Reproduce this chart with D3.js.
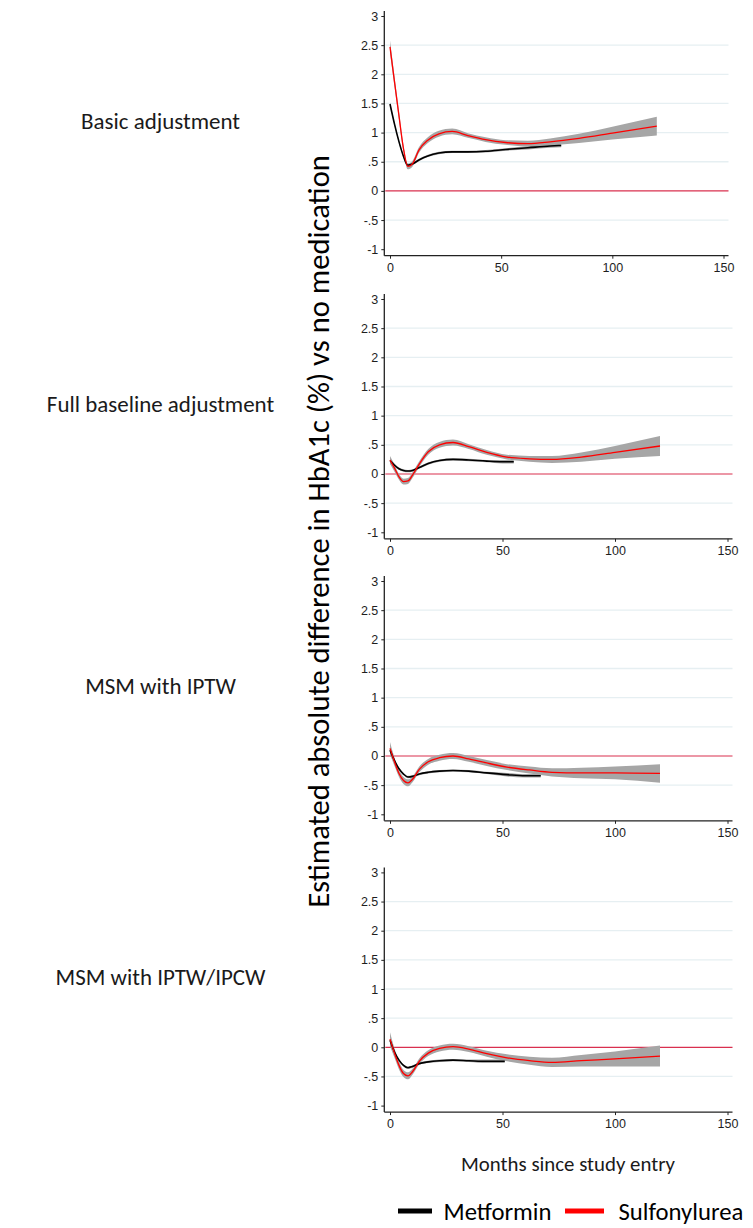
<!DOCTYPE html>
<html>
<head>
<meta charset="utf-8">
<script src="https://cdn.jsdelivr.net/npm/d3@7"></script>
<style>
  body { margin: 0; background: #fff; }
  svg { display: block; }
</style>
</head>
<body>
<svg id="chart" width="753" height="1228"></svg>
<script>
// ---- Labels and ticks ----
const panelTitles = ["Basic adjustment", "Full baseline adjustment", "MSM with IPTW", "MSM with IPTW/IPCW"];
const seriesNames = ["Metformin", "Sulfonylurea"];
const yTicks = [3, 2.5, 2, 1.5, 1, 0.5, 0, -0.5, -1];
const yTickLabels = ["3", "2.5", "2", "1.5", "1", ".5", "0", "-.5", "-1"];
const xTicks = [0, 50, 100, 150];
const yTitle = "Estimated absolute difference in HbA1c (%) vs no medication";
const xTitle = "Months since study entry";

// ---- Sulfonylurea: estimate and 95% CI half-width, by month ----
const sulfMonths = [0, 2, 4, 6, 8, 10, 13, 17, 22, 28, 35, 43, 52, 62, 72, 85, 100, 120];
const sulfBasic      = [2.47, 1.88, 1.30, 0.74, 0.42, 0.46, 0.70, 0.87, 0.98, 1.02, 0.95, 0.88, 0.83, 0.81, 0.84, 0.90, 0.99, 1.11];
const sulfBasicCI    = [0.11, 0.09, 0.07, 0.06, 0.05, 0.05, 0.05, 0.05, 0.05, 0.05, 0.04, 0.04, 0.04, 0.05, 0.06, 0.08, 0.11, 0.16];
const sulfFull       = [0.24, 0.10, -0.05, -0.13, -0.12, -0.02, 0.17, 0.38, 0.50, 0.54, 0.47, 0.37, 0.29, 0.26, 0.25, 0.29, 0.37, 0.48];
const sulfFullCI     = [0.07, 0.06, 0.05, 0.05, 0.05, 0.05, 0.05, 0.05, 0.05, 0.05, 0.04, 0.04, 0.04, 0.05, 0.06, 0.08, 0.11, 0.17];
const sulfIptw       = [0.13, -0.10, -0.30, -0.42, -0.46, -0.40, -0.23, -0.10, -0.03, 0.00, -0.05, -0.12, -0.19, -0.24, -0.28, -0.29, -0.29, -0.30];
const sulfIptwCI     = [0.11, 0.07, 0.06, 0.06, 0.06, 0.05, 0.05, 0.05, 0.05, 0.05, 0.05, 0.05, 0.05, 0.06, 0.07, 0.09, 0.11, 0.16];
const sulfIpcw       = [0.14, -0.10, -0.31, -0.45, -0.49, -0.42, -0.24, -0.10, -0.02, 0.01, -0.03, -0.11, -0.18, -0.23, -0.26, -0.23, -0.20, -0.15];
const sulfIpcwCI     = [0.12, 0.08, 0.07, 0.06, 0.06, 0.05, 0.05, 0.05, 0.05, 0.05, 0.05, 0.05, 0.06, 0.07, 0.08, 0.10, 0.13, 0.18];

// ---- Metformin: estimate and 95% CI half-width, by month ----
const metBasicMonths = [0, 2, 4, 6, 8, 10, 13, 17, 22, 28, 35, 43, 52, 62, 72, 77];
const metBasic       = [1.49, 1.15, 0.85, 0.60, 0.44, 0.46, 0.53, 0.60, 0.65, 0.67, 0.67, 0.68, 0.71, 0.74, 0.77, 0.78];
const metBasicCI     = [0.03, 0.02, 0.02, 0.02, 0.02, 0.02, 0.02, 0.02, 0.02, 0.02, 0.02, 0.02, 0.02, 0.03, 0.03, 0.03];
const metFullMonths  = [0, 2, 4, 6, 8, 10, 13, 17, 22, 28, 35, 43, 50, 55];
const metFull        = [0.23, 0.15, 0.09, 0.06, 0.05, 0.06, 0.11, 0.18, 0.23, 0.25, 0.24, 0.22, 0.21, 0.21];
const metFullCI      = [0.04, 0.03, 0.02, 0.02, 0.02, 0.02, 0.02, 0.02, 0.02, 0.02, 0.02, 0.02, 0.03, 0.03];
const metIptwMonths  = [0, 2, 4, 6, 8, 10, 13, 17, 22, 28, 35, 43, 52, 60, 67];
const metIptw        = [0.10, -0.08, -0.22, -0.31, -0.36, -0.35, -0.31, -0.28, -0.26, -0.25, -0.26, -0.29, -0.32, -0.34, -0.34];
const metIptwCI      = [0.04, 0.03, 0.02, 0.02, 0.02, 0.02, 0.02, 0.02, 0.02, 0.02, 0.02, 0.02, 0.03, 0.03, 0.03];
const metIpcwMonths  = [0, 2, 4, 6, 8, 10, 13, 17, 22, 28, 35, 43, 51];
const metIpcw        = [0.12, -0.08, -0.22, -0.31, -0.35, -0.33, -0.28, -0.25, -0.23, -0.22, -0.23, -0.24, -0.24];
const metIpcwCI      = [0.04, 0.03, 0.02, 0.02, 0.02, 0.02, 0.02, 0.02, 0.02, 0.02, 0.02, 0.03, 0.03];

const panels = [
  { title: panelTitles[0], met: [metBasicMonths, metBasic, metBasicCI], sulf: [sulfMonths, sulfBasic, sulfBasicCI] },
  { title: panelTitles[1], met: [metFullMonths, metFull, metFullCI],    sulf: [sulfMonths, sulfFull, sulfFullCI] },
  { title: panelTitles[2], met: [metIptwMonths, metIptw, metIptwCI],    sulf: [sulfMonths, sulfIptw, sulfIptwCI] },
  { title: panelTitles[3], met: [metIpcwMonths, metIpcw, metIpcwCI],    sulf: [sulfMonths, sulfIpcw, sulfIpcwCI] }
];

// ---- Layout ----
const yTop = [16, 299, 581, 872.4];             // pixel of y = 3
const yBottom = [249.2, 532.3, 814.3, 1105.6];  // pixel of y = -1
const xLeft = 390, xRight = [723.5, 727.5, 727.5, 727.5];
const axisX = 384.3;

const colors = { band: "#a6a6a6", met: "#000000", sulf: "#ff0000", zero: "#d9304f", grid: "#e6eff2", axis: "#222" };
const labelFont = "Carlito, Calibri, Lato, 'Open Sans', sans-serif";
const tickFont = "'Liberation Sans', Arial, sans-serif";

const svg = d3.select("#chart");

function toRows(arr) {
  const [m, v, h] = arr;
  return m.map((month, i) => ({ month, v: v[i], lo: v[i] - h[i], hi: v[i] + h[i] }));
}

function fitWidth(sel, target) {
  const w = sel.node().getComputedTextLength();
  const fs = parseFloat(sel.attr("font-size"));
  sel.attr("font-size", fs * target / w);
  return fs * target / w;
}

panels.forEach((p, i) => {
  const x = d3.scaleLinear().domain([0, 150]).range([xLeft, xRight[i]]);
  const y = d3.scaleLinear().domain([-1, 3]).range([yBottom[i], yTop[i]]);
  const g = svg.append("g");
  const xEnd = xRight[i] + 5;
  const axisY = yBottom[i] + 6.5;

  // horizontal gridlines
  g.selectAll("line.grid").data(yTicks.filter(t => t !== 0 && t !== 3 && t !== -1))
    .join("line").attr("class", "grid")
    .attr("x1", axisX + 1).attr("x2", xEnd)
    .attr("y1", d => y(d)).attr("y2", d => y(d))
    .attr("stroke", colors.grid).attr("stroke-width", 1.3);

  // reference line at zero
  g.append("line")
    .attr("x1", axisX + 1).attr("x2", xEnd)
    .attr("y1", y(0)).attr("y2", y(0))
    .attr("stroke", colors.zero).attr("stroke-width", 1.2);

  // y axis
  const yAxis = d3.axisLeft(y).tickValues(yTicks)
    .tickFormat((d, k) => yTickLabels[k]).tickSize(3).tickPadding(3);
  const ya = g.append("g").attr("transform", `translate(${axisX},0)`).call(yAxis);
  ya.select(".domain").attr("d", `M0,${yTop[i] - 5}V${axisY}`).attr("stroke", colors.axis).attr("stroke-width", 1.3);
  ya.selectAll(".tick line").attr("stroke", colors.axis);
  ya.selectAll(".tick text").attr("font-family", tickFont).attr("font-size", 12.5).attr("fill", "#1e1e1e");

  // x axis
  const xAxis = d3.axisBottom(x).tickValues(xTicks).tickSize(3).tickPadding(4);
  const xa = g.append("g").attr("transform", `translate(0,${axisY})`).call(xAxis);
  xa.select(".domain").attr("d", `M${axisX},0H${xEnd}`).attr("stroke", colors.axis).attr("stroke-width", 1.3);
  xa.selectAll(".tick line").attr("stroke", colors.axis);
  xa.selectAll(".tick text").attr("font-family", tickFont).attr("font-size", 12.5).attr("fill", "#1e1e1e");

  const area = d3.area().curve(d3.curveMonotoneX)
    .x(d => x(d.month)).y0(d => y(d.lo)).y1(d => y(d.hi));
  const line = d3.line().curve(d3.curveMonotoneX)
    .x(d => x(d.month)).y(d => y(d.v));

  const met = toRows(p.met), sulf = toRows(p.sulf);

  // confidence bands
  g.append("path").datum(sulf).attr("d", area).attr("fill", colors.band);
  g.append("path").datum(met).attr("d", area).attr("fill", colors.band);
  // estimates
  g.append("path").datum(met).attr("d", line).attr("fill", "none")
    .attr("stroke", colors.met).attr("stroke-width", 1.6);
  g.append("path").datum(sulf).attr("d", line).attr("fill", "none")
    .attr("stroke", colors.sulf).attr("stroke-width", 1.3);

  // row label
  p.labelNode = svg.append("text")
    .attr("x", 160.5).attr("y", yTop[i] + 113)
    .attr("text-anchor", "middle")
    .attr("font-family", labelFont).attr("font-size", 20).attr("fill", "#1a1a1a")
    .text(p.title);
});

// row labels share one size, set from the first label's width
const rowSize = fitWidth(panels[0].labelNode, 159);
panels.forEach(p => p.labelNode.attr("font-size", rowSize));

// y title
const yt = svg.append("text")
  .attr("transform", "translate(318,531.5) rotate(-90)")
  .attr("text-anchor", "middle").attr("dominant-baseline", "central")
  .attr("font-family", labelFont).attr("font-size", 26).attr("fill", "#000")
  .text(yTitle);
fitWidth(yt, 753);

// x title
const xt = svg.append("text")
  .attr("x", 568).attr("y", 1171)
  .attr("text-anchor", "middle")
  .attr("font-family", labelFont).attr("font-size", 20).attr("fill", "#1a1a1a")
  .text(xTitle);
fitWidth(xt, 214);

// legend
const legendItems = [
  { name: seriesNames[0], color: colors.met, x1: 398, x2: 432, tx: 443.5 },
  { name: seriesNames[1], color: colors.sulf, x1: 565, x2: 604, tx: 618.5 }
];
const lg = svg.append("g");
lg.selectAll("rect").data(legendItems).join("rect")
  .attr("x", d => d.x1).attr("width", d => d.x2 - d.x1)
  .attr("y", 1208.5).attr("height", 5).attr("fill", d => d.color);
const lt = lg.selectAll("text").data(legendItems).join("text")
  .attr("x", d => d.tx).attr("y", 1220)
  .attr("font-family", labelFont).attr("font-size", 23).attr("fill", "#000")
  .text(d => d.name);
const legSize = fitWidth(d3.select(lt.nodes()[0]), 108);
lt.attr("font-size", legSize);
</script>
</body>
</html>
